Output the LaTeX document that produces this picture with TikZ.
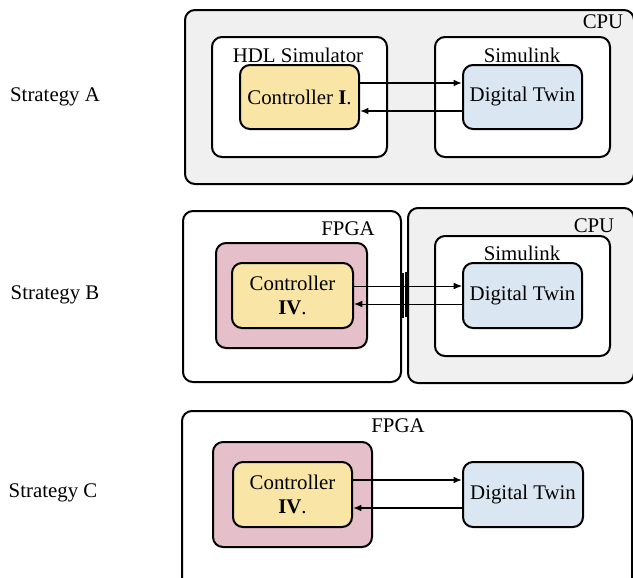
\documentclass[tikz,border=0pt]{standalone}
\usepackage{fontspec}
\setmainfont{Liberation Serif}
\usetikzlibrary{arrows.meta}
\definecolor{cpugray}{HTML}{F0F0F0}
\definecolor{ctrlyellow}{HTML}{F9E6A6}
\definecolor{fpgapink}{HTML}{E5BFC9}
\definecolor{twinblue}{HTML}{DAE6F1}
\tikzset{
  box/.style={draw,line width=1.2pt,rounded corners=6pt,inner sep=0pt},
  lbl/.style={font=\fontsize{12.5}{14}\selectfont,inner sep=0pt},
  link/.style={-{Latex[length=5pt,width=4pt]},line width=0.9pt},
  thinlink/.style={-{Latex[length=5pt,width=4pt]},line width=0.5pt},
}
\begin{document}
\begin{tikzpicture}[x=0.6pt,y=-0.6pt]
  \useasboundingbox (0,0) rectangle (633,577);
  % strategy A
  \node[box,fill=cpugray,minimum width=269.4pt,minimum height=104.4pt] (cpuA) at (409.5,97) {};
  \node[box,fill=white,minimum width=105pt,minimum height=72pt] (hdlA) at (299.5,97) {};
  \node[box,fill=white,minimum width=105pt,minimum height=72pt] (simA) at (522.5,97) {};
  \node[box,fill=ctrlyellow,minimum width=71.4pt,minimum height=38.4pt,lbl] (ctrlA) at (299.5,97) {Controller \textbf{I}.};
  \node[box,fill=twinblue,minimum width=71.4pt,minimum height=38.4pt,lbl] (twinA) at (522.5,97) {Digital Twin};
  \node[lbl] (cpuAlbl) at (603,22) {CPU};
  \node[lbl] (hdlAlbl) at (298,55) {HDL Simulator};
  \node[lbl] (simAlbl) at (522,55) {Simulink};
  \node[lbl] (stratA) at (55,97) {Strategy A};
  \draw[link] ([yshift=8.4pt]ctrlA.east) -- ([yshift=8.4pt]twinA.west);
  \draw[link] ([yshift=-8.4pt]twinA.west) -- ([yshift=-8.4pt]ctrlA.east);
  % strategy B
  \node[box,minimum width=130.8pt,minimum height=102.6pt] (fpgaB) at (292,296.5) {};
  \node[box,fill=cpugray,minimum width=135.6pt,minimum height=105pt] (cpuB) at (521,295.5) {};
  \node[box,fill=fpgapink,minimum width=90.6pt,minimum height=63pt] (pinkB) at (291.5,295.5) {};
  \node[box,fill=white,minimum width=105pt,minimum height=72pt] (simB) at (522.5,296) {};
  \node[box,fill=ctrlyellow,minimum width=72.6pt,minimum height=39pt,lbl,align=center] (ctrlB) at (292.5,295.5) {Controller\\\textbf{IV}.};
  \node[box,fill=twinblue,minimum width=71.4pt,minimum height=39pt,lbl] (twinB) at (522.5,295.5) {Digital Twin};
  \node[lbl] (fpgaBlbl) at (348,229) {FPGA};
  \node[lbl] (cpuBlbl) at (594,226) {CPU};
  \node[lbl] (simBlbl) at (522,253) {Simulink};
  \node[lbl] (stratB) at (55,295) {Strategy B};
  \draw[line width=2pt] ([yshift=14pt]fpgaB.east) -- ([yshift=-13pt]fpgaB.east);
  \draw[line width=2pt] ([yshift=14pt]cpuB.west) -- ([yshift=-13pt]cpuB.west);
  \draw[thinlink] ([yshift=5.7pt]ctrlB.east) -- ([yshift=5.7pt]twinB.west);
  \draw[thinlink] ([yshift=-5.1pt]twinB.west) -- ([yshift=-5.1pt]ctrlB.east);
  % strategy C
  \node[box,minimum width=270pt,minimum height=113.4pt] (fpgaC) at (407,505.5) {};
  \node[box,fill=fpgapink,minimum width=95.4pt,minimum height=63pt] (pinkC) at (292.5,494.5) {};
  \node[box,fill=ctrlyellow,minimum width=71.4pt,minimum height=39pt,lbl,align=center] (ctrlC) at (292.5,494.5) {Controller\\\textbf{IV}.};
  \node[box,fill=twinblue,minimum width=72pt,minimum height=39pt,lbl] (twinC) at (523,494.5) {Digital Twin};
  \node[lbl] (fpgaClbl) at (398,426) {FPGA};
  \node[lbl] (stratC) at (53,493) {Strategy C};
  \draw[link] ([yshift=8.7pt]ctrlC.east) -- ([yshift=8.7pt]twinC.west);
  \draw[link] ([yshift=-8.1pt]twinC.west) -- ([yshift=-8.1pt]ctrlC.east);
\end{tikzpicture}
\end{document}
